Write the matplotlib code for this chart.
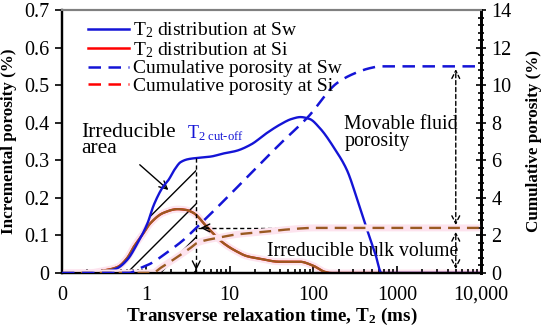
import numpy as np
import matplotlib
matplotlib.use("Agg")
import matplotlib.pyplot as plt
from matplotlib.lines import Line2D
from matplotlib.ticker import FixedLocator, MultipleLocator, LogLocator, NullFormatter

plt.rcParams['font.family'] = ['Liberation Serif', 'DejaVu Serif']
plt.rcParams['mathtext.fontset'] = 'custom'
plt.rcParams['mathtext.rm'] = 'Liberation Serif'
plt.rcParams['mathtext.it'] = 'Liberation Serif:italic'
plt.rcParams['mathtext.bf'] = 'Liberation Serif:bold'
plt.rcParams['hatch.linewidth'] = 1.0

# ---------------- data ----------------
t2_sw = [0.1, 0.2, 0.3, 0.4, 0.46, 0.6, 0.8, 1.05, 1.24, 1.6, 1.87, 2.2, 2.6, 3.2, 4.0,
         6.0, 8.4, 12, 18, 28, 40, 55, 70, 90, 120, 180, 250, 340, 430, 550, 650, 10000]
inc_sw = [0, 0, 0.002, 0.008, 0.013, 0.035, 0.08, 0.133, 0.18, 0.229, 0.248, 0.275, 0.295, 0.303, 0.306,
          0.31, 0.318, 0.325, 0.342, 0.373, 0.395, 0.41, 0.415, 0.41, 0.385, 0.33, 0.275, 0.19, 0.12, 0.05, 0, 0]

t2_si = [0.1, 0.2, 0.29, 0.46, 0.6, 0.72, 0.9, 1.14, 1.62, 2.4, 3.0, 3.7, 5.4, 8.4, 12, 16,
         23, 39, 69, 98, 137, 160, 10000]
inc_si = [0, 0, 0.005, 0.016, 0.04, 0.07, 0.1, 0.133, 0.16, 0.17, 0.168, 0.16, 0.122, 0.08, 0.058, 0.045,
          0.038, 0.03, 0.03, 0.02, 0.003, 0, 0]

t2_cum_sw = [0.1, 0.62, 0.87, 1.14, 1.8, 2.8, 4.0, 7.8, 17.6, 40, 86, 190, 300, 468, 620, 10000]
cum_sw = [0, 0, 0.27, 0.5, 1.1, 1.75, 2.4, 3.67, 5.27, 6.87, 8.3, 10.1, 10.6, 10.9, 11.0, 11.0]

t2_cum_si = [0.1, 1.2, 1.5, 2.2, 3.4, 4.1, 7.8, 12, 25, 50, 100, 10000]
cum_si = [0, 0, 0.27, 0.75, 1.33, 1.6, 1.9, 2.05, 2.18, 2.32, 2.4, 2.4]

t2_cutoff = 4.0
movable_x = 5000
xticks = [0.1, 1, 10, 100, 1000, 10000]
xticklabels = ['0', '1', '10', '100', '1000', '10,000']
legend_labels = [r'T$_2$ distribution at Sw', r'T$_2$ distribution at Si',
                 'Cumulative porosity at Sw', 'Cumulative porosity at Si']


def pchip(x, y, xq):
    x = np.asarray(x, float); y = np.asarray(y, float)
    h = np.diff(x); d = np.diff(y) / h
    m = np.zeros_like(y)
    m[0] = d[0]; m[-1] = d[-1]
    for k in range(1, len(y) - 1):
        if d[k - 1] * d[k] <= 0:
            m[k] = 0
        else:
            w1 = 2 * h[k] + h[k - 1]; w2 = h[k] + 2 * h[k - 1]
            m[k] = (w1 + w2) / (w1 / d[k - 1] + w2 / d[k])
    idx = np.clip(np.searchsorted(x, xq) - 1, 0, len(x) - 2)
    hh = h[idx]; t = (xq - x[idx]) / hh
    h00 = 2 * t**3 - 3 * t**2 + 1; h10 = t**3 - 2 * t**2 + t
    h01 = -2 * t**3 + 3 * t**2; h11 = t**3 - t**2
    return h00 * y[idx] + h10 * hh * m[idx] + h01 * y[idx + 1] + h11 * hh * m[idx + 1]


def curve(tx, vy, n=800):
    lx = np.linspace(np.log10(tx[0]), np.log10(tx[-1]), n)
    return 10**lx, pchip(np.log10(tx), vy, lx)


blue = '#1414D6'
brown = '#9A5A22'
red = '#FF0000'
pink = '#FDE3EE'

fig = plt.figure(figsize=(5.5, 3.27), dpi=100)
ax = fig.add_axes([62/550, 1-273/327, (481-62)/550, (273-10)/327])
ax2 = ax.twinx()

ax.set_xscale('log')
ax.set_xlim(0.1, 10000)
ax.set_ylim(0, 0.7)
ax2.set_ylim(0, 14)

# hatched irreducible area
xs, ys = curve(t2_sw, inc_sw)
mask = (xs >= 0.3) & (xs <= t2_cutoff)
ax.fill_between(xs[mask], 0, ys[mask], facecolor='none', edgecolor='black', hatch='/', linewidth=0, zorder=2)

# Si T2 distribution (red with halo, brown overlay)
xi, yi = curve(t2_si, inc_si)
ax.plot(xi, yi, color=pink, lw=5, zorder=1, solid_capstyle='butt')
ax.plot(xi, yi, color=red, lw=1.6, zorder=3)
m2 = xi <= 160
ax.plot(xi[m2], yi[m2], color=brown, lw=1.6, zorder=4)

# Sw T2 distribution
ax.plot(xs, ys, color=blue, lw=1.7, zorder=5)

# cumulative curves on right axis
xc, yc = curve(t2_cum_sw, cum_sw)
xd, yd = curve(t2_cum_si, cum_si)
ax2.plot(xd, yd, color=pink, lw=5, zorder=1)
ax2.plot(xd, yd, color=brown, lw=1.7, dashes=(5, 3), zorder=4)
ax2.plot(xc, yc, color=blue, lw=1.8, dashes=(5, 3), zorder=5)

# cutoff vertical dashed arrow
top_cut = float(pchip(np.log10(t2_sw), inc_sw, np.array([np.log10(t2_cutoff)]))[0])
ax.plot([t2_cutoff, t2_cutoff], [top_cut, 0.003], color='black', lw=1, dashes=(3, 2), zorder=6)
ax.annotate('', xy=(t2_cutoff, 0.0), xytext=(t2_cutoff, 0.03),
            arrowprops=dict(arrowstyle='->', color='black', lw=1, mutation_scale=14), zorder=6)

# horizontal dashed arrow at irreducible level
irr = cum_si[-1] / 20.0
ax.plot([t2_cutoff * 1.06, 10000], [irr, irr], color='black', lw=1, dashes=(3, 2), zorder=6)
ax.annotate('', xy=(t2_cutoff * 1.04, irr), xytext=(t2_cutoff * 1.5, irr),
            arrowprops=dict(arrowstyle='->', color='black', lw=1, mutation_scale=14), zorder=6)

# movable fluid double arrow
tot = cum_sw[-1] / 20.0
ax.annotate('', xy=(movable_x, tot), xytext=(movable_x, irr),
            arrowprops=dict(arrowstyle='<->', color='black', lw=1, ls=(0, (3, 2)), mutation_scale=14), zorder=6)
ax.annotate('', xy=(movable_x, irr - 0.003), xytext=(movable_x, 0.003),
            arrowprops=dict(arrowstyle='<->', color='black', lw=1, ls=(0, (3, 2)), mutation_scale=14), zorder=6)

# texts
ax.text(0.168, 0.352, 'Irreducible\narea', fontsize=15.5, va='center', ha='left', linespacing=0.8)
ax.annotate('', xy=(1.97, 0.216), xytext=(0.80, 0.293),
            arrowprops=dict(arrowstyle='->', color='black', lw=1, mutation_scale=14))
ax.text(3.1, 0.372, r'T$_{\mathrm{2\ cut}\text{-}\mathrm{off}}$', fontsize=13, color=blue, va='center', ha='left')
ax.text(235, 0.373, 'Movable fluid\nporosity', fontsize=14.3, va='center', ha='left', linespacing=0.85)
ax.text(28, 0.056, 'Irreducible bulk volume', fontsize=14.2, va='center', ha='left')

# axes styling
ax.xaxis.set_major_locator(FixedLocator(xticks))
ax.set_xticklabels(xticklabels)
ax.xaxis.set_minor_locator(LogLocator(base=10, subs=np.arange(2, 10)))
ax.xaxis.set_minor_formatter(NullFormatter())
ax.tick_params(axis='x', which='major', direction='in', length=5, width=1.2, labelsize=14.5, pad=9)
ax.tick_params(axis='x', which='minor', direction='in', length=3, width=1.2)
ax.set_yticks(np.arange(0, 0.71, 0.1))
ax.set_yticklabels(['0'] + ['%.1f' % v for v in np.arange(0.1, 0.71, 0.1)])
ax.tick_params(axis='y', which='major', direction='out', length=5, width=1.2, labelsize=14.5, pad=4)
ax2.set_yticks(np.arange(0, 15, 2))
ax2.yaxis.set_minor_locator(MultipleLocator(0.4))
ax2.tick_params(axis='y', which='major', direction='inout', length=7, width=1.2, labelsize=14.5, pad=4)
ax2.tick_params(axis='y', which='minor', direction='inout', length=5, width=1.2)

for a in (ax, ax2):
    a.spines['top'].set_color('#808080')
    a.spines['top'].set_linewidth(1.5)
    a.spines['left'].set_linewidth(1.6)
    a.spines['bottom'].set_linewidth(1.6)
    a.spines['right'].set_linewidth(2.0)

ax.set_xlabel(r'Transverse relaxation time, T$_\mathbf{2}$ (ms)', fontsize=13.8, fontweight='bold', labelpad=1)
ax.set_ylabel('Incremental porosity (%)', fontsize=12.3, fontweight='bold', labelpad=5)
ax2.set_ylabel('Cumulative porosity (%)', fontsize=12.3, fontweight='bold', labelpad=10)

handles = [Line2D([], [], color=blue, lw=1.8),
           Line2D([], [], color=red, lw=1.8),
           Line2D([], [], color=blue, lw=1.8, dashes=(5, 3)),
           Line2D([], [], color=red, lw=1.8, dashes=(5, 3))]
ax2.legend(handles, legend_labels, loc='upper left', bbox_to_anchor=(0.035, 1.005), frameon=False,
           fontsize=14, handlelength=2.1, handletextpad=0.2, labelspacing=0.0, borderaxespad=0.2)

fig.savefig('out.png', dpi=100)
